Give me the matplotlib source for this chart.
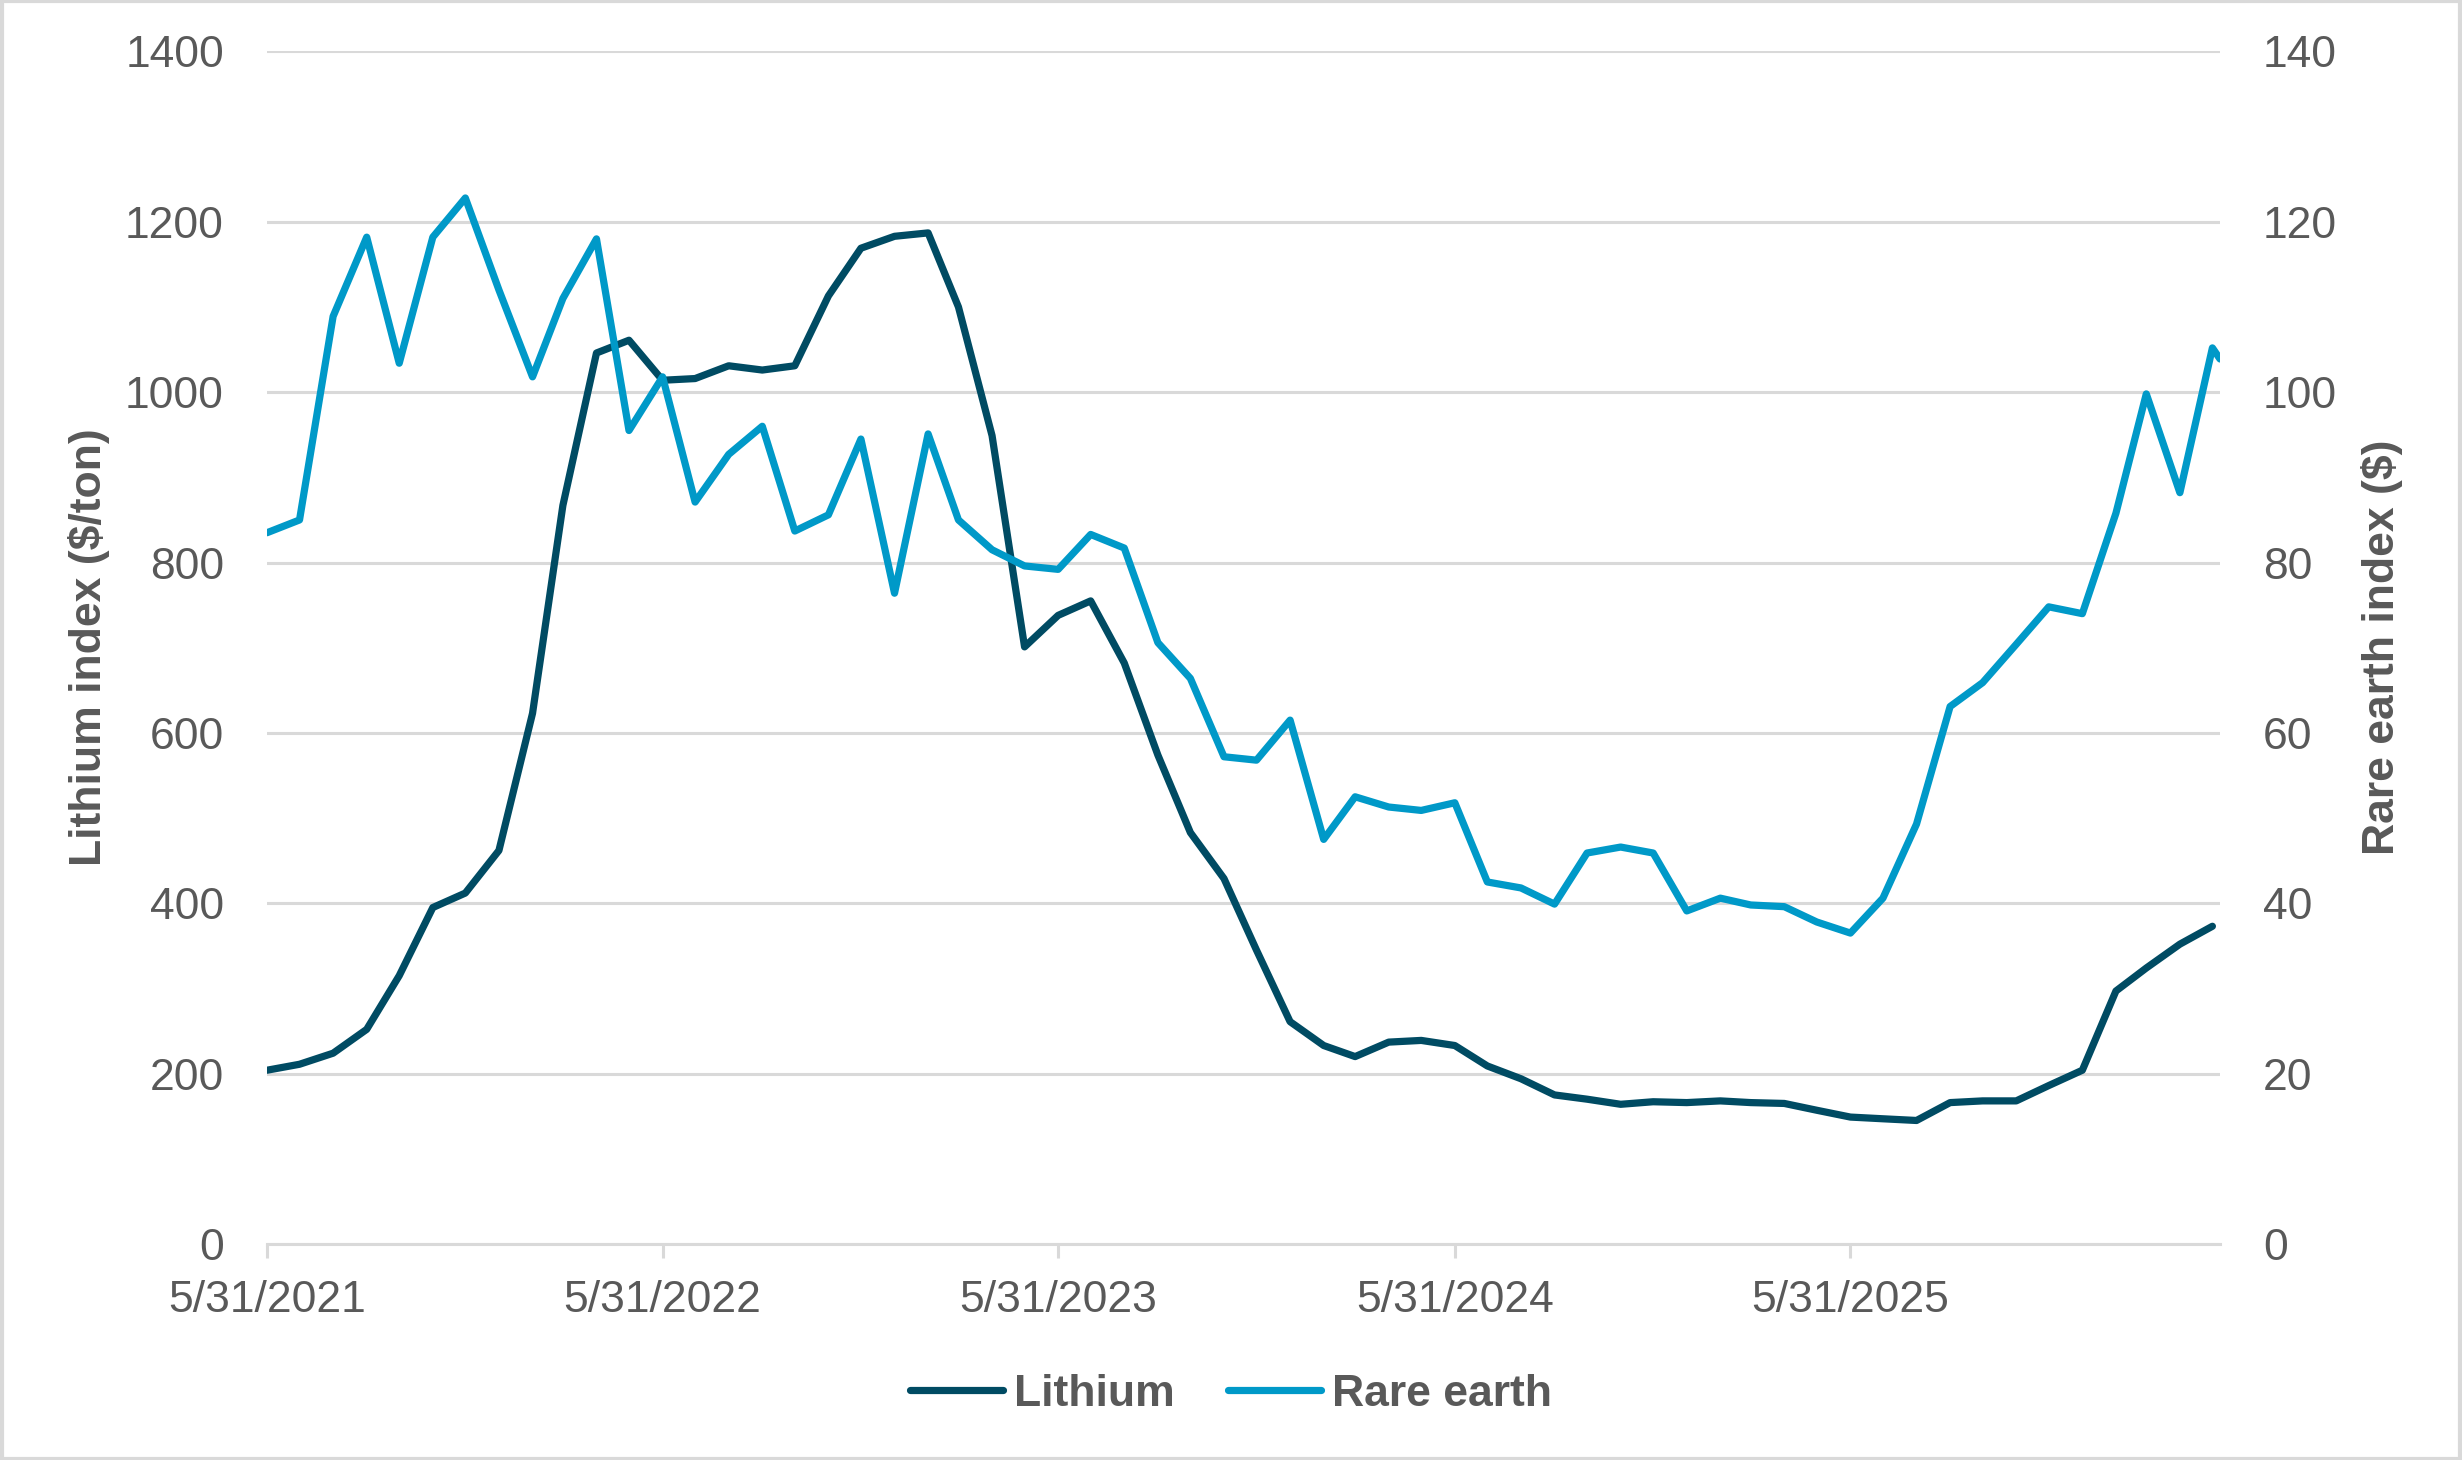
import matplotlib
matplotlib.use("Agg")
import matplotlib.pyplot as plt
from matplotlib.patches import Rectangle
import pandas as pd

# ---- data ----
lithium_dates = pd.date_range("2021-05-31", periods=60, freq="ME")
lithium = [204, 211, 224, 252, 315, 395, 412, 462, 623, 867, 1046, 1061, 1014, 1016,
           1031, 1026, 1031, 1113, 1169, 1183, 1187, 1100, 949, 701, 738, 755, 682, 574,
           483, 429, 345, 261, 233, 220, 237, 239, 233, 209, 194, 175, 170, 164, 167,
           166, 168, 166, 165, 157, 149, 147, 145, 166, 168, 168, 186, 204, 297, 324,
           352, 373]
rare_dates = list(lithium_dates) + [pd.Timestamp("2026-05-07")]
rare_earth = [83.5, 85.0, 108.9, 118.2, 103.4, 118.2, 122.8, 112.0, 101.8, 111.0, 118.0,
              95.5, 101.8, 87.1, 92.7, 96.0, 83.7, 85.6, 94.5, 76.4, 95.1, 85.0, 81.5,
              79.6, 79.2, 83.3, 81.7, 70.6, 66.4, 57.2, 56.8, 61.5, 47.5, 52.5, 51.3,
              50.9, 51.8, 42.5, 41.8, 39.9, 45.9, 46.6, 45.9, 39.1, 40.6, 39.8, 39.6,
              37.8, 36.5, 40.6, 49.3, 63.1, 65.9, 70.4, 74.8, 74.0, 85.8, 99.8, 88.2,
              105.2, 103.9]
x_ticks = ["2021-05-31", "2022-05-31", "2023-05-31", "2024-05-31", "2025-05-31"]
x_tick_labels = ["5/31/2021", "5/31/2022", "5/31/2023", "5/31/2024", "5/31/2025"]
left_ticks = [0, 200, 400, 600, 800, 1000, 1200, 1400]
right_ticks = [0, 20, 40, 60, 80, 100, 120, 140]
series_names = ["Lithium", "Rare earth"]

# ---- style ----
plt.rcParams["font.family"] = ["Liberation Sans", "DejaVu Sans"]
TXT = "#595959"
GRID = "#D9D9D9"
C_LI = "#004B63"
C_RE = "#0099C8"
FS = 16
LW = 2.6

fig = plt.figure(figsize=(12.31, 7.30), dpi=200)
ax = fig.add_axes([0.10845, 0.14795, 0.79325, 0.8168])
ax2 = ax.twinx()

l1, = ax.plot(lithium_dates, lithium, color=C_LI, lw=LW, label=series_names[0],
              solid_joinstyle="round", solid_capstyle="round", zorder=3)
l2, = ax2.plot(rare_dates, rare_earth, color=C_RE, lw=LW, label=series_names[1],
               solid_joinstyle="round", solid_capstyle="round", zorder=3)

ax.set_xlim(pd.Timestamp("2021-05-31"), pd.Timestamp("2026-05-07"))
ax.set_ylim(0, 1400)
ax2.set_ylim(0, 140)
ax.set_yticks(left_ticks)
ax2.set_yticks(right_ticks)
ax.set_xticks(pd.to_datetime(x_ticks))
ax.set_xticklabels(x_tick_labels)

ax.grid(axis="y", color=GRID, lw=1.1)
ax.set_axisbelow(True)
for a in (ax, ax2):
    for s in ("top", "left", "right", "bottom"):
        a.spines[s].set_visible(False)
ax.spines["bottom"].set_visible(True)
ax.spines["bottom"].set_color(GRID)
ax.spines["bottom"].set_linewidth(1.1)

ax.tick_params(axis="x", colors=GRID, length=5, width=1.1, direction="out",
               labelcolor=TXT, labelsize=FS, pad=8)
ax.tick_params(axis="y", length=0, labelcolor=TXT, labelsize=FS, pad=15.5)
ax2.tick_params(axis="y", length=0, labelcolor=TXT, labelsize=FS, pad=15.5)

fig.text(89 / 2462, 1 - 647 / 1460, "Lithium index ($/ton)", rotation=90,
         ha="center", va="center", fontsize=FS, fontweight="bold", color=TXT)
fig.text(2382 / 2462, 1 - 647 / 1460, "Rare earth index ($)", rotation=90,
         ha="center", va="center", fontsize=FS, fontweight="bold", color=TXT)

leg = fig.legend(handles=[l1, l2], loc="center", bbox_to_anchor=(0.5, 1 - 1394 / 1460),
                 ncol=2, frameon=False, handlelength=2.1, handletextpad=0.25,
                 columnspacing=1.2, prop={"size": FS, "weight": "bold"})
for t in leg.get_texts():
    t.set_color(TXT)

fig.patches.append(Rectangle((0.001, 0.001), 0.998, 0.998, transform=fig.transFigure,
                             fill=False, edgecolor=GRID, lw=1.5))

fig.savefig("out.png", dpi=200)
